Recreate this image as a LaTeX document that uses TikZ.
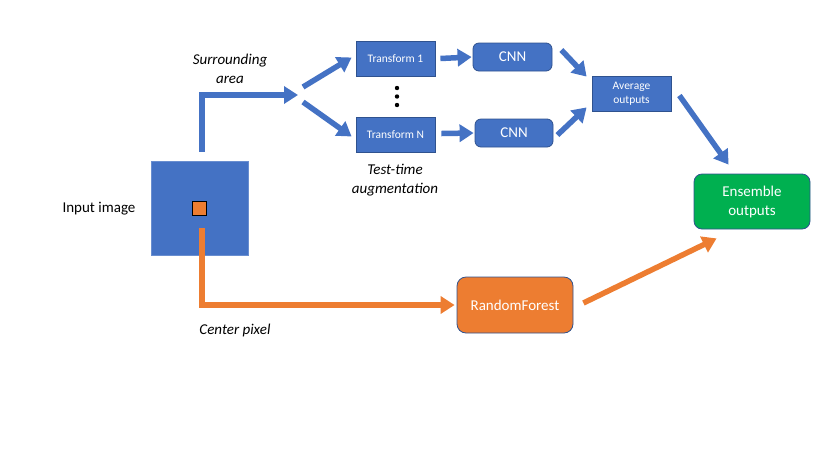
\documentclass[tikz,border=0pt]{standalone}
\usepackage{fontspec}
\setmainfont{Carlito}
\usetikzlibrary{arrows.meta,calc}
\definecolor{pblue}{HTML}{4472C4}
\definecolor{pborder}{HTML}{2F528F}
\definecolor{porange}{HTML}{ED7D31}
\definecolor{pgreen}{HTML}{00B050}
\tikzset{
  box/.style={draw=pborder, line width=0.8pt, fill=pblue, text=white, inner sep=0pt, align=center},
  sqbox/.style={box, font=\fontsize{11.5}{14}\selectfont},
  rbox/.style={box, rounded corners=6pt, font=\fontsize{15}{19}\selectfont},
  barrow/.style={draw=pblue, line width=5.5pt, -{Triangle[length=14pt,width=17pt]}},
  oarrow/.style={draw=porange, line width=5.5pt, -{Triangle[length=14pt,width=17pt]}},
  lbl/.style={font=\fontsize{15}{19}\selectfont, align=center, inner sep=0pt},
  ilbl/.style={lbl, font=\fontsize{15}{19}\selectfont\itshape},
}
\begin{document}
\begin{tikzpicture}[x=1pt,y=-1pt]
\useasboundingbox (0,0) rectangle (830,467);
% input image
\node[draw=pblue!80!white, line width=0.6pt, fill=pblue, minimum width=97pt, minimum height=94pt, inner sep=0pt] (img) at (199.5,208) {};
\node[draw=black, line width=0.8pt, fill=porange, minimum width=14pt, minimum height=14pt, inner sep=0pt] (px) at (199.5,208) {};
\node[lbl] (inlbl) at (99,209) {Input image};
% split point
\coordinate (split) at (300,95);
% transforms
\node[sqbox, minimum width=79pt, minimum height=35pt] (t1) at (395.5,58.5) {Transform 1};
\node[sqbox, minimum width=79pt, minimum height=35pt] (t2) at (395.5,134.5) {Transform N};
\fill[black] (397,88) circle (2.2pt) (397,96.5) circle (2.2pt) (397,105) circle (2.2pt);
% CNNs
\node[rbox, minimum width=79pt, minimum height=28pt] (c1) at (512.5,57) {CNN};
\node[rbox, minimum width=78pt, minimum height=28pt] (c2) at (514,133) {CNN};
% average
\node[sqbox, minimum width=79pt, minimum height=35pt, font=\fontsize{11.5}{14}\selectfont] (avg) at (631.5,93.5) {Average\\outputs};
% ensemble
\node[box, fill=pgreen, rounded corners=8pt, minimum width=116pt, minimum height=55pt, font=\fontsize{15}{19}\selectfont] (ens) at (752,201.5) {Ensemble\\outputs};
% random forest
\node[box, fill=porange, rounded corners=9pt, minimum width=116pt, minimum height=56pt, font=\fontsize{15}{19}\selectfont] (rf) at (515,305) {RandomForest};
% labels
\node[ilbl] (sa) at (230,68.5) {Surrounding\\area};
\node[ilbl] (tta) at (395,180) {Test-time\\augmentation};
\node[ilbl] (cp) at (235,330) {Center pixel};
% connectors
\draw[barrow] ($(img.north)+(2.5,-9)$) |- ($(split)+(-2,0)$);
\draw[barrow] ($(split)+(3,-8)$) -- ($(t1.west)+(-4,-1)$);
\draw[barrow] ($(split)+(3,7)$) -- ($(t2.west)+(-4,2)$);
\draw[barrow] ($(t1.east)+(5,0)$) -- ($(c1.west)+(-1,0)$);
\draw[barrow] ($(t2.east)+(6,-1)$) -- ($(c2.west)+(-1,0)$);
\draw[barrow] ($(c1.east)+(9,-7)$) -- ($(avg.north west)+(-5,1)$);
\draw[barrow] ($(c2.east)+(4,2)$) -- ($(avg.south west)+(-5,-4)$);
\draw[barrow] ($(avg.east)+(8,2)$) -- ($(ens.north west)+(35,-9)$);
\draw[oarrow] ($(px.south)+(2.5,13)$) |- ($(rf.west)+(-2,0)$);
\draw[oarrow] ($(rf.east)+(10,-2)$) -- ($(ens.south west)+(23,9)$);
\end{tikzpicture}
\end{document}
